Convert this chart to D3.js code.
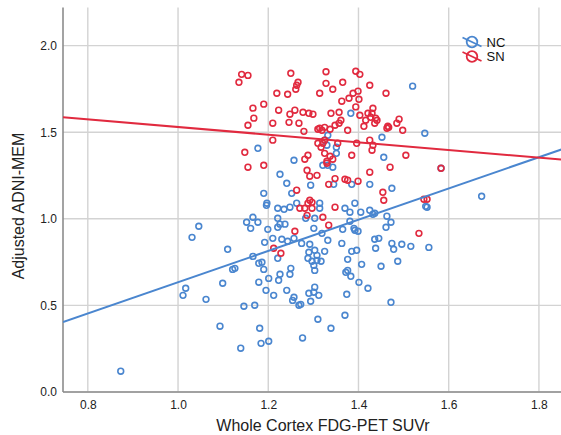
<!DOCTYPE html>
<html>
<head>
<meta charset="utf-8">
<script src="https://cdn.jsdelivr.net/npm/d3@7"></script>
<style>
  html, body { margin: 0; padding: 0; background: #fff; }
  svg { display: block; }
</style>
</head>
<body>
<div id="chart"></div>
<script>
'use strict';

// Groups, colours and fit lines (slope / intercept)
var groups = ['NC', 'SN'];
var groupColors = ['#4a86cf', '#e12a3f'];
var fitSlope = [0.902, -0.221];
var fitIntercept = [-0.268, 1.751];

var xTicks = [0.8, 1.0, 1.2, 1.4, 1.6, 1.8];
var yTicks = [0.0, 0.5, 1.0, 1.5, 2.0];

// NC points: [SUVr, ADNI-MEM]
var ncPoints = [
  [1.046, 0.957], [1.031, 0.893], [1.110, 0.824], [1.121, 0.708], [1.099, 0.628],
  [1.017, 0.599], [1.011, 0.558], [1.062, 0.535], [1.093, 0.380], [0.873, 0.120],
  [1.139, 0.253], [1.152, 0.980], [1.166, 1.009], [1.161, 0.945], [1.177, 0.980],
  [1.166, 0.783], [1.179, 0.743], [1.179, 0.634], [1.146, 0.495], [1.170, 0.501],
  [1.181, 0.368], [1.184, 0.281], [1.201, 0.293], [1.254, 0.529], [1.268, 0.501],
  [1.276, 0.312], [1.196, 1.078], [1.221, 1.061], [1.235, 1.055], [1.248, 1.067],
  [1.314, 1.061], [1.370, 1.061], [1.381, 1.038], [1.405, 1.038], [1.425, 1.049],
  [1.199, 0.939], [1.221, 1.003], [1.226, 0.969], [1.237, 0.969], [1.221, 0.951],
  [1.283, 1.003], [1.303, 1.003], [1.301, 0.945], [1.319, 0.916], [1.365, 0.939],
  [1.390, 0.945], [1.392, 0.934], [1.399, 0.928], [1.381, 0.986], [1.432, 1.026],
  [1.210, 0.887], [1.192, 0.864], [1.230, 0.882], [1.243, 0.870], [1.257, 0.887],
  [1.274, 0.858], [1.292, 0.853], [1.332, 0.876], [1.363, 0.858], [1.221, 0.772],
  [1.290, 0.807], [1.303, 0.818], [1.308, 0.789], [1.288, 0.772], [1.297, 0.755],
  [1.308, 0.760], [1.317, 0.755], [1.301, 0.731], [1.303, 0.702], [1.325, 0.812],
  [1.385, 0.812], [1.396, 0.818], [1.376, 0.766], [1.407, 0.737], [1.126, 0.714],
  [1.186, 0.749], [1.190, 0.708], [1.201, 0.656], [1.195, 0.587], [1.212, 0.558],
  [1.226, 0.680], [1.223, 0.645], [1.248, 0.680], [1.250, 0.714], [1.241, 0.587],
  [1.257, 0.547], [1.272, 0.506], [1.290, 0.570], [1.294, 0.524], [1.303, 0.605],
  [1.301, 0.576], [1.312, 0.558], [1.372, 0.691], [1.376, 0.702], [1.383, 0.668],
  [1.401, 0.633], [1.421, 0.599], [1.374, 0.564], [1.310, 0.420], [1.339, 0.368],
  [1.370, 0.443], [1.472, 0.518], [1.436, 1.032], [1.552, 1.067], [1.463, 1.015],
  [1.472, 0.980], [1.461, 0.951], [1.436, 0.882], [1.445, 0.887], [1.438, 0.830],
  [1.474, 0.858], [1.478, 0.824], [1.496, 0.853], [1.516, 0.841], [1.556, 0.835],
  [1.450, 0.726], [1.487, 0.755], [1.520, 1.766], [1.547, 1.494], [1.452, 1.471],
  [1.456, 1.355], [1.583, 1.292], [1.474, 1.176], [1.549, 1.072], [1.673, 1.130],
  [1.425, 1.199], [1.177, 1.407], [1.383, 1.609], [1.332, 1.482], [1.330, 1.425],
  [1.257, 1.338], [1.351, 1.378], [1.321, 1.309], [1.332, 1.309], [1.343, 1.298],
  [1.226, 1.257], [1.241, 1.205], [1.294, 1.194], [1.252, 1.147], [1.190, 1.147],
  [1.345, 1.199], [1.385, 1.199], [1.197, 1.090], [1.263, 1.090], [1.314, 1.090],
  [1.392, 1.090], [1.325, 1.454], [1.351, 1.413]
];

// SN points: [SUVr, ADNI-MEM]
var snPoints = [
  [1.135, 1.788], [1.141, 1.834], [1.155, 1.828], [1.250, 1.840], [1.266, 1.788],
  [1.263, 1.771], [1.261, 1.748], [1.328, 1.849], [1.328, 1.782], [1.365, 1.788],
  [1.343, 1.748], [1.394, 1.852], [1.403, 1.834], [1.425, 1.771], [1.219, 1.725],
  [1.243, 1.719], [1.314, 1.725], [1.166, 1.639], [1.190, 1.662], [1.223, 1.627],
  [1.248, 1.604], [1.259, 1.627], [1.277, 1.615], [1.290, 1.609], [1.299, 1.604],
  [1.168, 1.581], [1.155, 1.540], [1.210, 1.552], [1.246, 1.557], [1.268, 1.552],
  [1.339, 1.609], [1.357, 1.615], [1.363, 1.679], [1.379, 1.696], [1.388, 1.725],
  [1.399, 1.737], [1.401, 1.690], [1.403, 1.598], [1.421, 1.609], [1.427, 1.586],
  [1.279, 1.505], [1.310, 1.517], [1.319, 1.511], [1.325, 1.528], [1.337, 1.517],
  [1.348, 1.540], [1.357, 1.552], [1.361, 1.569], [1.376, 1.511], [1.412, 1.534],
  [1.416, 1.569], [1.210, 1.454], [1.148, 1.384], [1.155, 1.298], [1.190, 1.309],
  [1.310, 1.436], [1.321, 1.436], [1.317, 1.413], [1.354, 1.436], [1.396, 1.436],
  [1.288, 1.367], [1.281, 1.344], [1.325, 1.378], [1.337, 1.361], [1.343, 1.344],
  [1.330, 1.332], [1.385, 1.367], [1.330, 1.321], [1.425, 1.269], [1.286, 1.280],
  [1.292, 1.246], [1.308, 1.251], [1.263, 1.165], [1.334, 1.199], [1.370, 1.228],
  [1.376, 1.223], [1.399, 1.217], [1.292, 1.107], [1.288, 1.090], [1.297, 1.095],
  [1.348, 1.067], [1.270, 1.061], [1.281, 1.061], [1.297, 1.061], [1.286, 1.020],
  [1.321, 1.009], [1.334, 0.963], [1.259, 0.928], [1.212, 0.830], [1.228, 0.801],
  [1.534, 0.916], [1.461, 1.725], [1.432, 1.638], [1.430, 1.609], [1.438, 1.581],
  [1.441, 1.569], [1.436, 1.552], [1.465, 1.534], [1.467, 1.528], [1.463, 1.523],
  [1.485, 1.552], [1.490, 1.575], [1.498, 1.511], [1.425, 1.454], [1.432, 1.425],
  [1.430, 1.396], [1.505, 1.367], [1.470, 1.298], [1.583, 1.292], [1.454, 1.153],
  [1.456, 1.107], [1.545, 1.113], [1.552, 1.113], [1.394, 1.646], [1.348, 1.232],
  [1.325, 1.454], [1.314, 1.523]
];

var pointSets = [ncPoints, snPoints];

var width = 561, height = 435;
var x = d3.scaleLinear().domain([0.745, 1.86]).range([63, 566]);
var y = d3.scaleLinear().domain([0, 2.22]).range([392, 7.5]);

var svg = d3.select('#chart').append('svg')
  .attr('width', width)
  .attr('height', height)
  .attr('font-family', 'Liberation Sans, Arial, sans-serif');

svg.append('defs').append('clipPath').attr('id', 'plot-clip')
  .append('rect')
  .attr('x', x.range()[0]).attr('y', y.range()[1])
  .attr('width', x.range()[1] - x.range()[0])
  .attr('height', y.range()[0] - y.range()[1]);

// gridlines
var grid = svg.append('g').attr('stroke', '#d3d3d3').attr('stroke-width', 1.4);
grid.selectAll('line.v').data(xTicks).join('line')
  .attr('class', 'v')
  .attr('x1', function (d) { return x(d); }).attr('x2', function (d) { return x(d); })
  .attr('y1', y.range()[0]).attr('y2', y.range()[1]);
grid.selectAll('line.h').data(yTicks).join('line')
  .attr('class', 'h')
  .attr('x1', x.range()[0]).attr('x2', x.range()[1])
  .attr('y1', function (d) { return y(d); }).attr('y2', function (d) { return y(d); });

// axes (labels only, lines drawn separately)
var xAxis = svg.append('g')
  .attr('transform', 'translate(0,' + y.range()[0] + ')')
  .call(d3.axisBottom(x).tickValues(xTicks).tickFormat(d3.format('.1f')).tickSize(0).tickPadding(8));
var yAxis = svg.append('g')
  .attr('transform', 'translate(' + x.range()[0] + ',0)')
  .call(d3.axisLeft(y).tickValues(yTicks).tickFormat(d3.format('.1f')).tickSize(0).tickPadding(6));
[xAxis, yAxis].forEach(function (a) {
  a.select('.domain').remove();
  a.selectAll('text').attr('font-size', 12).attr('fill', '#222').attr('font-family', 'Liberation Sans, Arial, sans-serif');
});

svg.append('line')
  .attr('x1', x.range()[0]).attr('x2', x.range()[1])
  .attr('y1', y.range()[0]).attr('y2', y.range()[0])
  .attr('stroke', '#8c8c8c').attr('stroke-width', 1.6);
svg.append('line')
  .attr('x1', x.range()[0]).attr('x2', x.range()[0])
  .attr('y1', y.range()[0]).attr('y2', y.range()[1])
  .attr('stroke', '#8c8c8c').attr('stroke-width', 1.6);

var plot = svg.append('g').attr('clip-path', 'url(#plot-clip)');

// points
pointSets.forEach(function (pts, i) {
  plot.append('g')
    .selectAll('circle')
    .data(pts)
    .join('circle')
    .attr('cx', function (d) { return x(d[0]); })
    .attr('cy', function (d) { return y(d[1]); })
    .attr('r', 2.9)
    .attr('fill', 'none')
    .attr('stroke', groupColors[i])
    .attr('stroke-width', 1.6);
});

// fit lines
var xd = x.domain();
groups.forEach(function (g, i) {
  var ends = xd.map(function (v) { return [v, fitIntercept[i] + fitSlope[i] * v]; });
  plot.append('path')
    .attr('d', d3.line().x(function (d) { return x(d[0]); }).y(function (d) { return y(d[1]); })(ends))
    .attr('fill', 'none')
    .attr('stroke', groupColors[i])
    .attr('stroke-width', 2);
});

// legend
var legend = svg.append('g').attr('transform', 'translate(472,42)');
groups.forEach(function (g, i) {
  var row = legend.append('g').attr('transform', 'translate(0,' + (i * 14.5) + ')');
  row.append('line')
    .attr('x1', -9.5).attr('y1', -4.5).attr('x2', 9.5).attr('y2', 4.5)
    .attr('stroke', groupColors[i]).attr('stroke-width', 1.8);
  row.append('circle')
    .attr('r', 5.3)
    .attr('fill', 'none')
    .attr('stroke', groupColors[i])
    .attr('stroke-width', 1.8);
  row.append('text')
    .attr('x', 14.5).attr('y', 4.5)
    .attr('font-size', 13)
    .attr('fill', '#111')
    .text(g);
});

// axis titles
svg.append('text')
  .attr('x', 323).attr('y', 431)
  .attr('text-anchor', 'middle')
  .attr('font-size', 16)
  .attr('fill', '#222')
  .text('Whole Cortex FDG-PET SUVr');
svg.append('text')
  .attr('transform', 'translate(24,206) rotate(-90)')
  .attr('text-anchor', 'middle')
  .attr('font-size', 16)
  .attr('fill', '#222')
  .text('Adjusted ADNI-MEM');
</script>
</body>
</html>
